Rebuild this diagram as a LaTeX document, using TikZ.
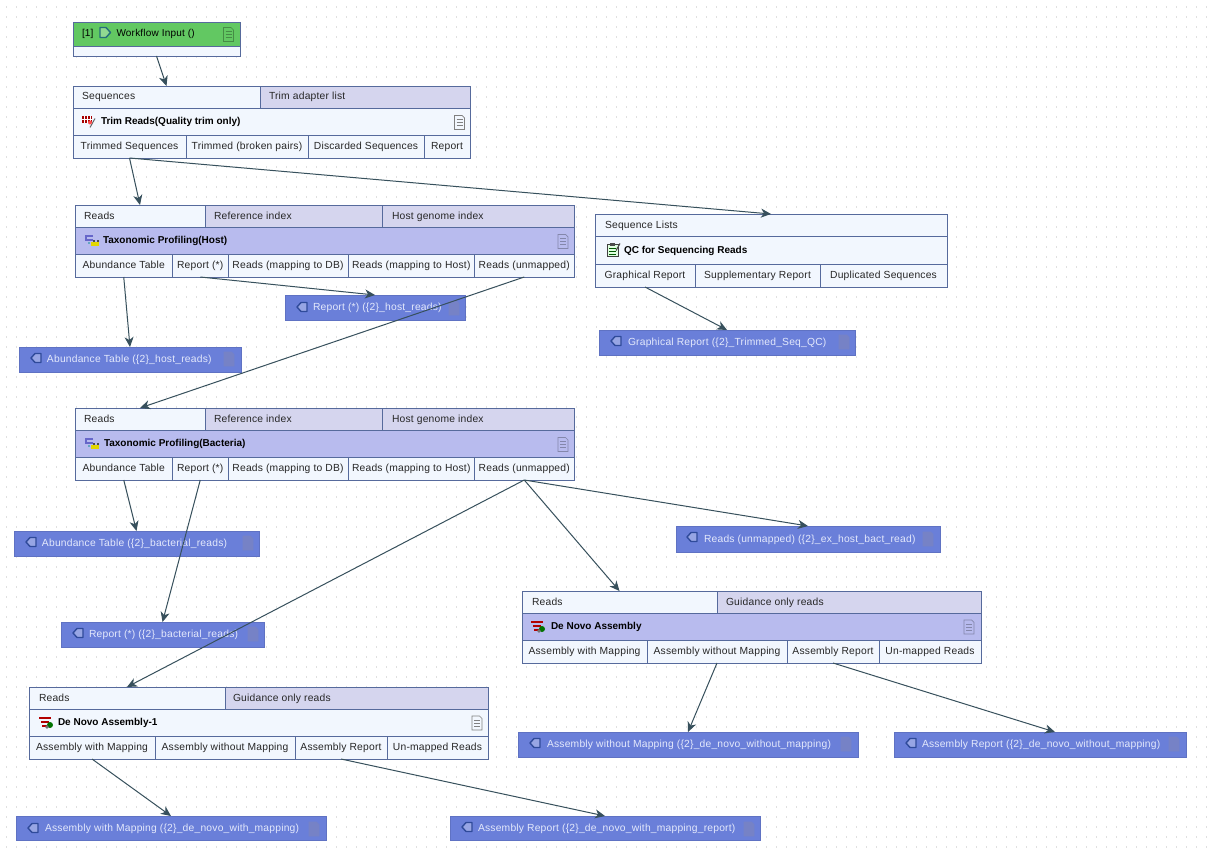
\documentclass[tikz,border=0pt]{standalone}
\usepackage{fontspec}
\setmainfont[LetterSpace=2,BoldFeatures={LetterSpace=0}]{Liberation Sans}
\usetikzlibrary{arrows.meta,calc}
\definecolor{cellLight}{HTML}{F2F7FE}
\definecolor{cellGrey}{HTML}{D5D5EE}
\definecolor{bandBlue}{HTML}{B8BBEE}
\definecolor{bandGreen}{HTML}{62C862}
\definecolor{edgeBlue}{HTML}{566A9C}
\definecolor{outFill}{HTML}{6A7FD9}
\definecolor{outText}{HTML}{E4E9FC}
\definecolor{outDocCol}{HTML}{7682C6}
\definecolor{linkCol}{HTML}{37505C}
\definecolor{iconDark}{HTML}{2F4A9A}
\tikzset{
  cellbox/.style={draw=edgeBlue,line width=0.9pt,rectangle,inner sep=0pt,outer sep=0pt,text height=8pt,text depth=2pt,font=\fontsize{10.3}{12}\selectfont,text=black!85},
  titlebox/.style={cellbox,font=\bfseries\fontsize{10}{12}\selectfont,text=black},
  outbox/.style={rectangle,fill=outFill,draw=outFill!90!black,line width=0.6pt,inner sep=0pt,outer sep=0pt,text height=8pt,text depth=2pt,text=outText,font=\fontsize{10.3}{12}\selectfont},
  link/.style={draw=linkCol,line width=1pt,-{Stealth[length=10pt,width=9pt,inset=3pt]}},
  dotrow/.style={draw=black!12,line width=1.1pt,dash pattern=on 1.1pt off 8.9pt},
  outdoc/.style={draw=outDocCol,fill=outDocCol},
  banddoc/.style={draw=black!28!bandBlue},
  plaindoc/.style={draw=black!50},
  greendoc/.style={draw=black!30!bandGreen},
}
% name, x1, y1, x2, y2, style options, left pad (px), text
\newcommand{\leftcell}[8]{%
  \pgfmathsetmacro{\cellW}{#4-#2}\pgfmathsetmacro{\cellH}{#5-#3}%
  \node[#6,anchor=north west,minimum width=\cellW pt,minimum height=\cellH pt] (#1) at (#2,#3)
    {\hbox to \cellW pt{\hskip #7pt #8\hfil}};}
\newcommand{\midcell}[7]{%
  \pgfmathsetmacro{\cellW}{#4-#2}\pgfmathsetmacro{\cellH}{#5-#3}%
  \node[#6,anchor=north west,minimum width=\cellW pt,minimum height=\cellH pt] (#1) at (#2,#3) {#7};}
\newcommand{\docicon}[3]{% x, y (centre), style
  \begin{scope}[shift={(#1,#2)}]
    \path[#3,line width=0.7pt] (-5,-7) -- (2.5,-7) -- (5,-4.5) -- (5,7) -- (-5,7) -- cycle;
    \foreach \yy in {-3,0,3}{\path[#3,line width=0.6pt] (-3,\yy) -- (3,\yy);}
  \end{scope}}
\newcommand{\outicon}[2]{%
  \begin{scope}[shift={(#1,#2)}]
  \draw[iconDark,fill=outFill!70!white,line width=1.4pt,line join=round] (-5,0) -- (-1,-4.5) -- (5,-4.5) -- (5,4.5) -- (-1,4.5) -- cycle;
  \end{scope}}
\newcommand{\inicon}[2]{%
  \begin{scope}[shift={(#1,#2)}]
  \draw[iconDark!80!green,fill=bandGreen!70!white,line width=1.4pt,line join=round] (5.5,0) -- (1,-5) -- (-5,-5) -- (-5,5) -- (1,5) -- cycle;
  \end{scope}}
\newcommand{\trimicon}[2]{%
  \begin{scope}[shift={(#1,#2)}]
  \fill[red!65!black] (-7,-5) rectangle (3,2);
  \foreach \ii in {-5,-2,1}{\draw[white,line width=0.6pt] (\ii,-5) -- (\ii,2);}
  \draw[white,line width=0.6pt] (-7,-2) -- (3,-2);
  \draw[black!60,line width=1pt] (6,-3) -- (1,6);
  \fill[red!70!white] (1,1) circle (2pt);
  \end{scope}}
\newcommand{\taxicon}[2]{%
  \begin{scope}[shift={(#1,#2)}]
  \draw[black!35!blue!60,line width=1.2pt] (1,-5) -- (-6,-5) -- (-6,-1) -- (1,-1);
  \fill[yellow!75!olive] (-1,1) rectangle (7,5);
  \fill[black!70] (1,-1) rectangle (3,1);\fill[black!70] (5,-1) rectangle (7,1);
  \fill[cyan!50!gray] (-4,1) rectangle (-2,3);
  \end{scope}}
\newcommand{\novoicon}[2]{%
  \begin{scope}[shift={(#1,#2)}]
  \draw[red!70!black,line width=1.3pt] (-7,-4) -- (5,-4) (-5,0) -- (3,0) (-4,4) -- (1,4);
  \fill[green!45!black] (4,3) circle (3pt);
  \fill[black!55] (1,5) circle (1.8pt);
  \end{scope}}
\newcommand{\qcicon}[2]{%
  \begin{scope}[shift={(#1,#2)}]
  \draw[black!75,fill=green!12!white,line width=1pt] (-6,-5) rectangle (5,7);
  \fill[black!70] (-3,-7) rectangle (2,-4);
  \foreach \yy in {-1,2,5}{\draw[green!35!black,line width=0.7pt] (-4,\yy) -- (3,\yy);}
  \draw[black!70,line width=1.1pt] (7,-6) -- (3,1);
  \end{scope}}
\begin{document}
\begin{tikzpicture}[x=1pt,y=-1pt]
\useasboundingbox (0,0) rectangle (1212,856);
\fill[white] (0,0) rectangle (1212,856);
% dotted canvas
\foreach \gy in {7,17,...,847}{\draw[dotrow] (6,\gy) -- (1212,\gy);}

% Workflow input
\leftcell{wfHead}{73}{22}{240}{46}{titlebox,fill=bandGreen,font=\fontsize{10}{12}\selectfont}{9}{[1]\hskip 23pt Workflow Input ()}
\midcell{wfOut}{73}{46}{240}{56}{cellbox,fill=cellLight}{}
\inicon{105}{32.5}\docicon{228.5}{34.5}{greendoc}

% Trim reads
\leftcell{trSeq}{73}{86}{260}{108}{cellbox,fill=cellLight}{9}{Sequences}
\leftcell{trAd}{260}{86}{470}{108}{cellbox,fill=cellGrey}{9}{Trim adapter list}
\leftcell{trTitle}{73}{108}{470}{135}{titlebox,fill=cellLight}{28}{Trim Reads(Quality trim only)}
\midcell{trA}{73}{135}{186}{158}{cellbox,fill=cellLight}{Trimmed Sequences}
\midcell{trB}{186}{135}{308}{158}{cellbox,fill=cellLight}{Trimmed (broken pairs)}
\midcell{trC}{308}{135}{424}{158}{cellbox,fill=cellLight}{Discarded Sequences}
\midcell{trD}{424}{135}{470}{158}{cellbox,fill=cellLight}{Report}
\trimicon{89}{121.5}\docicon{459.5}{122.5}{plaindoc}

% Taxonomic profiling (host)
\leftcell{hoR}{75}{205}{205}{227}{cellbox,fill=cellLight}{9}{Reads}
\leftcell{hoI}{205}{205}{382}{227}{cellbox,fill=cellGrey}{9}{Reference index}
\leftcell{hoG}{382}{205}{574}{227}{cellbox,fill=cellGrey}{10}{Host genome index}
\leftcell{hoTitle}{75}{227}{574}{254}{titlebox,fill=bandBlue}{28}{Taxonomic Profiling(Host)}
\midcell{hoA}{75}{254}{172.5}{277}{cellbox,fill=cellLight}{Abundance Table}
\midcell{hoB}{172.5}{254}{228}{277}{cellbox,fill=cellLight}{Report (*)}
\midcell{hoC}{228}{254}{348}{277}{cellbox,fill=cellLight}{Reads (mapping to DB)}
\midcell{hoD}{348}{254}{474.5}{277}{cellbox,fill=cellLight}{Reads (mapping to Host)}
\midcell{hoE}{474.5}{254}{574}{277}{cellbox,fill=cellLight}{Reads (unmapped)}
\taxicon{92}{241}\docicon{563}{241.5}{banddoc}

% host outputs
\leftcell{oHoRep}{285}{295}{465}{320}{outbox}{28}{Report (*) (\{2\}\_host\_reads)}
\outicon{302}{307}\docicon{454}{308}{outdoc}
\leftcell{oHoAb}{19}{347}{241}{372}{outbox}{28}{Abundance Table (\{2\}\_host\_reads)}
\outicon{36}{358}\docicon{229}{359}{outdoc}

% QC
\leftcell{qcS}{595}{214}{947}{236}{cellbox,fill=cellLight}{10}{Sequence Lists}
\leftcell{qcTitle}{595}{236}{947}{264}{titlebox,fill=cellLight}{29}{QC for Sequencing Reads}
\midcell{qcA}{595}{264}{695}{287}{cellbox,fill=cellLight}{Graphical Report}
\midcell{qcB}{695}{264}{820}{287}{cellbox,fill=cellLight}{Supplementary Report}
\midcell{qcC}{820}{264}{947}{287}{cellbox,fill=cellLight}{Duplicated Sequences}
\qcicon{613}{249.5}
\leftcell{oQc}{599}{330}{855}{355}{outbox}{29}{Graphical Report (\{2\}\_Trimmed\_Seq\_QC)}
\outicon{616}{341}\docicon{844}{342}{outdoc}

% Taxonomic profiling (bacteria)
\leftcell{baR}{75}{408}{205}{430}{cellbox,fill=cellLight}{9}{Reads}
\leftcell{baI}{205}{408}{382}{430}{cellbox,fill=cellGrey}{9}{Reference index}
\leftcell{baG}{382}{408}{574}{430}{cellbox,fill=cellGrey}{10}{Host genome index}
\leftcell{baTitle}{75}{430}{574}{457}{titlebox,fill=bandBlue}{29}{Taxonomic Profiling(Bacteria)}
\midcell{baA}{75}{457}{172.5}{480}{cellbox,fill=cellLight}{Abundance Table}
\midcell{baB}{172.5}{457}{228}{480}{cellbox,fill=cellLight}{Report (*)}
\midcell{baC}{228}{457}{348}{480}{cellbox,fill=cellLight}{Reads (mapping to DB)}
\midcell{baD}{348}{457}{474.5}{480}{cellbox,fill=cellLight}{Reads (mapping to Host)}
\midcell{baE}{474.5}{457}{574}{480}{cellbox,fill=cellLight}{Reads (unmapped)}
\taxicon{92}{444}\docicon{563}{444.5}{banddoc}

% bacteria outputs
\leftcell{oBaAb}{14}{531}{259}{556}{outbox}{28}{Abundance Table (\{2\}\_bacterial\_reads)}
\outicon{31}{542}\docicon{248}{543}{outdoc}
\leftcell{oBaRep}{61}{622}{264}{647}{outbox}{28}{Report (*) (\{2\}\_bacterial\_reads)}
\outicon{78}{633}\docicon{253}{634}{outdoc}
\leftcell{oBaUn}{676}{526}{940}{552}{outbox}{28}{Reads (unmapped) (\{2\}\_ex\_host\_bact\_read)}
\outicon{692}{537}\docicon{928}{539}{outdoc}

% De novo assembly
\leftcell{dnR}{522}{591}{717}{613}{cellbox,fill=cellLight}{10}{Reads}
\leftcell{dnG}{717}{591}{981}{613}{cellbox,fill=cellGrey}{9}{Guidance only reads}
\leftcell{dnTitle}{522}{613}{981}{640}{titlebox,fill=bandBlue}{29}{De Novo Assembly}
\midcell{dnA}{522}{640}{647}{663}{cellbox,fill=cellLight}{Assembly with Mapping}
\midcell{dnB}{647}{640}{787}{663}{cellbox,fill=cellLight}{Assembly without Mapping}
\midcell{dnC}{787}{640}{879}{663}{cellbox,fill=cellLight}{Assembly Report}
\midcell{dnD}{879}{640}{981}{663}{cellbox,fill=cellLight}{Un-mapped Reads}
\novoicon{538}{626}\docicon{969}{627}{banddoc}
\leftcell{oDnW}{518}{732}{858}{757}{outbox}{29}{Assembly without Mapping (\{2\}\_de\_novo\_without\_mapping)}
\outicon{535}{743}\docicon{846}{744}{outdoc}
\leftcell{oDnR}{894}{732}{1186}{757}{outbox}{28}{Assembly Report (\{2\}\_de\_novo\_without\_mapping)}
\outicon{911}{743}\docicon{1174}{744}{outdoc}

% De novo assembly-1
\leftcell{d1R}{29}{687}{225}{709}{cellbox,fill=cellLight}{10}{Reads}
\leftcell{d1G}{225}{687}{488}{709}{cellbox,fill=cellGrey}{8}{Guidance only reads}
\leftcell{d1Title}{29}{709}{488}{736}{titlebox,fill=cellLight}{29}{De Novo Assembly-1}
\midcell{d1A}{29}{736}{155}{759}{cellbox,fill=cellLight}{Assembly with Mapping}
\midcell{d1B}{155}{736}{295}{759}{cellbox,fill=cellLight}{Assembly without Mapping}
\midcell{d1C}{295}{736}{387}{759}{cellbox,fill=cellLight}{Assembly Report}
\midcell{d1D}{387}{736}{488}{759}{cellbox,fill=cellLight}{Un-mapped Reads}
\novoicon{46}{722}\docicon{477}{723}{plaindoc}
\leftcell{oD1W}{16}{816}{326}{840}{outbox}{29}{Assembly with Mapping (\{2\}\_de\_novo\_with\_mapping)}
\outicon{33}{828}\docicon{314}{829}{outdoc}
\leftcell{oD1R}{450}{816}{760}{840}{outbox}{28}{Assembly Report (\{2\}\_de\_novo\_with\_mapping\_report)}
\outicon{467}{827}\docicon{749}{829}{outdoc}

% connectors
\coordinate (oDnRin) at ($(oDnR.north)+(15,0)$);
\draw[link] (wfOut.south) -- (trSeq.north);
\draw[link] (trA.south) -- (hoR.north);
\draw[link] (trA.south) -- (qcS.north);
\draw[link] (hoA.south) -- (oHoAb.north);
\draw[link] (hoB.south) -- (oHoRep.north);
\draw[link] (hoE.south) -- (baR.north);
\draw[link] (qcA.south) -- (oQc.north);
\draw[link] (baA.south) -- (oBaAb.north);
\draw[link] (baB.south) -- (oBaRep.north);
\draw[link] (baE.south) -- (oBaUn.north);
\draw[link] (baE.south) -- (dnR.north);
\draw[link] (baE.south) -- (d1R.north);
\draw[link] (dnB.south) -- (oDnW.north);
\draw[link] (dnC.south) -- (oDnRin);
\draw[link] (d1A.south) -- (oD1W.north);
\draw[link] (d1C.south) -- (oD1R.north);
\end{tikzpicture}
\end{document}
